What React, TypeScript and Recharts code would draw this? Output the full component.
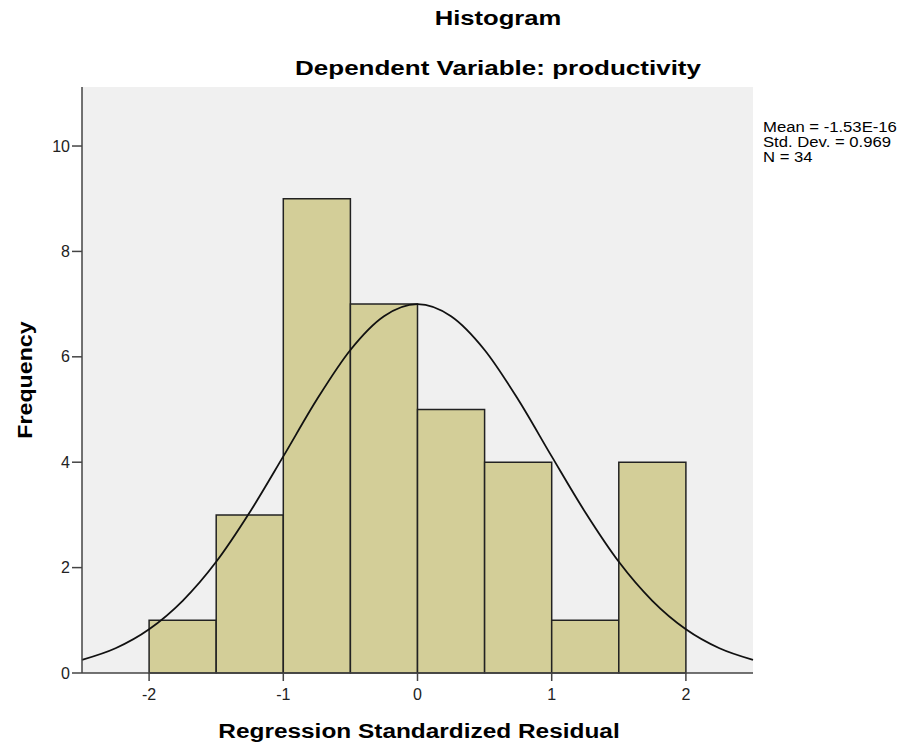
import {
  CartesianGrid,
  ComposedChart,
  Line,
  ReferenceArea,
  XAxis,
  YAxis,
} from "recharts";

// curve sample positions and heights
const X_POINTS = [
  -2.5, -2.25, -2, -1.75, -1.5, -1.25, -1, -0.75, -0.5, -0.25, 0, 0.25, 0.5,
  0.75, 1, 1.25, 1.5, 1.75, 2, 2.25, 2.5,
];
const CURVE = [
  0.25, 0.47, 0.83, 1.37, 2.11, 3.05, 4.11, 5.19, 6.13, 6.77, 7.0, 6.77, 6.13,
  5.19, 4.11, 3.05, 2.11, 1.37, 0.83, 0.47, 0.25,
];

// histogram bin edges and frequencies
const BIN_EDGES = [-2, -1.5, -1, -0.5, 0, 0.5, 1, 1.5, 2];
const COUNTS = [1, 3, 9, 7, 5, 4, 1, 4];

const X_TICKS = [-2, -1, 0, 1, 2];
const Y_TICKS = [0, 2, 4, 6, 8, 10];
const STATS = ["Mean = -1.53E-16", "Std. Dev. = 0.969", "N = 34"];

const data = X_POINTS.map((x, i) => ({ x, curve: CURVE[i] }));

const FONT = '"Liberation Sans", Arial, sans-serif';
const AXIS = "#444";

const wide = (cx: number, cy: number, size: number, sx: number) =>
  ({
    position: "absolute",
    left: cx,
    top: cy - 12,
    lineHeight: "24px",
    fontSize: size,
    fontWeight: "bold",
    whiteSpace: "nowrap",
    transform: `translateX(-50%) scaleX(${sx})`,
  }) as const;

export default function App() {
  return (
    <div style={{ position: "relative", width: 898, height: 736, fontFamily: FONT }}>
      <ComposedChart
        width={890}
        height={720}
        data={data}
        margin={{ top: 79, right: 145, bottom: 25, left: 34 }}
      >
        <CartesianGrid horizontal={false} vertical={false} fill="#f0f0f0" />
        <XAxis
          dataKey="x"
          type="number"
          domain={[-2.5, 2.5]}
          ticks={X_TICKS}
          height={30}
          tickSize={8}
          tickMargin={8}
          stroke={AXIS}
          strokeWidth={1.5}
          tick={{ fill: "#222", fontSize: 16 }}
        />
        <XAxis
          xAxisId="top"
          orientation="top"
          dataKey="x"
          type="number"
          domain={[-2.5, 2.5]}
          height={0}
          tick={false}
          tickLine={false}
          stroke={AXIS}
          strokeWidth={1.5}
        />
        <YAxis
          type="number"
          domain={[0, 11.12]}
          ticks={Y_TICKS}
          width={40}
          tickSize={10}
          tickMargin={2}
          stroke={AXIS}
          strokeWidth={1.5}
          tick={{ fill: "#222", fontSize: 16 }}
        />
        <YAxis
          yAxisId="right"
          orientation="right"
          domain={[0, 11.12]}
          width={0}
          tick={false}
          tickLine={false}
          stroke={AXIS}
          strokeWidth={1.5}
        />
        {COUNTS.map((c, i) => (
          <ReferenceArea
            key={i}
            x1={BIN_EDGES[i]}
            x2={BIN_EDGES[i + 1]}
            y1={0}
            y2={c}
            fill="#d3ce98"
            fillOpacity={1}
            stroke="#222"
            strokeWidth={1.5}
          />
        ))}
        <Line
          dataKey="curve"
          type="monotone"
          stroke="#111"
          strokeWidth={1.8}
          dot={false}
          isAnimationActive={false}
        />
      </ComposedChart>
      <div style={wide(490, 10, 20, 1.28)}>Histogram</div>
      <div style={wide(490, 60, 20, 1.3)}>Dependent Variable: productivity</div>
      <div style={wide(411, 723, 20, 1.22)}>Regression Standardized Residual</div>
      <div
        style={{
          position: "absolute",
          left: 17,
          top: 372,
          fontSize: 20,
          fontWeight: "bold",
          whiteSpace: "nowrap",
          transform: "translate(-50%, -50%) rotate(-90deg) scaleX(1.16)",
        }}
      >
        Frequency
      </div>
      <div
        style={{
          position: "absolute",
          left: 755,
          top: 112,
          fontSize: 14,
          lineHeight: "15px",
          transform: "scaleX(1.19)",
          transformOrigin: "left top",
          whiteSpace: "nowrap",
        }}
      >
        {STATS.map((s) => (
          <div key={s}>{s}</div>
        ))}
      </div>
    </div>
  );
}
